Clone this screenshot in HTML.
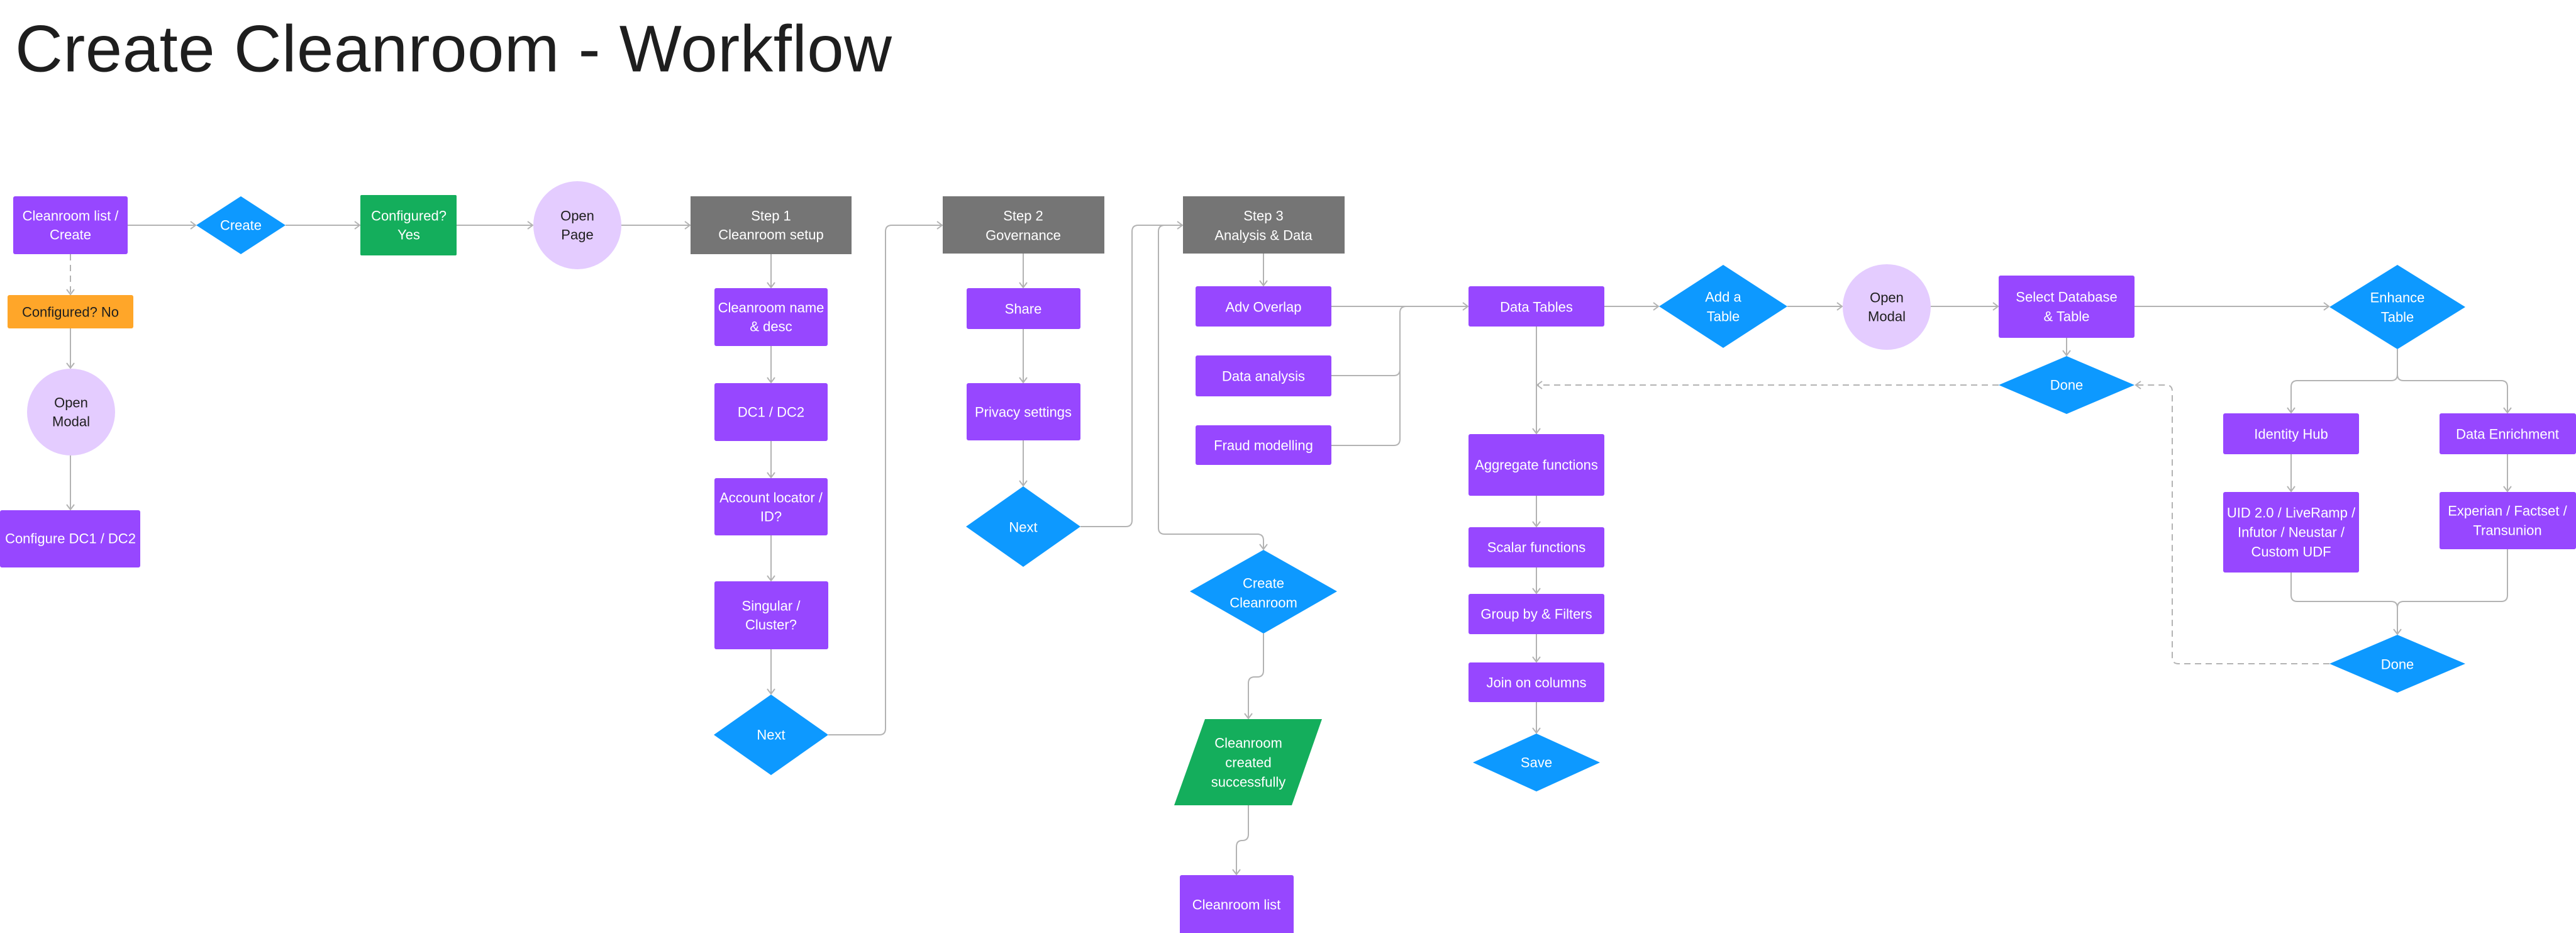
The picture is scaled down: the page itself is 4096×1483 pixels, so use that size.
<!DOCTYPE html>
<html><head><meta charset="utf-8"><style>
html,body{margin:0;padding:0;background:#fff;}
body{width:4096px;height:1483px;overflow:hidden;position:relative;}
svg{position:absolute;left:0;top:0;}
text{font-family:"Liberation Sans",sans-serif;font-size:22px;text-anchor:middle;dominant-baseline:central;fill:#fff;}
.d{fill:#1e1e1e;}
.c{fill:none;stroke:#b3b3b3;stroke-width:2;}
.dash{stroke-dasharray:10 7;}
</style></head><body>
<svg width="4096" height="1483" viewBox="0 0 4096 1483">
<defs>
<marker id="a" markerWidth="12" markerHeight="14" refX="10" refY="7" orient="auto" markerUnits="userSpaceOnUse">
<path d="M2,1 L10,7 L2,13" fill="none" stroke="#b3b3b3" stroke-width="2"/>
</marker>
</defs>
<text x="24" y="78" style="font-size:105px;text-anchor:start;fill:#1e1e1e;letter-spacing:0.5px">Create Cleanroom - Workflow</text>

<g class="c" marker-end="url(#a)">
<path d="M203,358 H311"/>
<path d="M454,358 H572"/>
<path d="M726,358 H847"/>
<path d="M988,358 H1097"/>
<path class="dash" d="M112,404 V468"/>
<path d="M112,522 V585"/>
<path d="M112,724 V810"/>
<path d="M1226,404 V457"/>
<path d="M1226,550 V608"/>
<path d="M1226,701 V759"/>
<path d="M1226,851 V923"/>
<path d="M1226,1032 V1103"/>
<path d="M1317,1168 H1398 Q1408,1168 1408,1158 V368 Q1408,358 1418,358 H1498"/>
<path d="M1627,403 V457"/>
<path d="M1627,523 V608"/>
<path d="M1627,700 V772"/>
<path d="M1718,837 H1790 Q1800,837 1800,827 V368 Q1800,358 1810,358 H1880"/>
<path d="M1852,358 Q1842,358 1842,368 V839 Q1842,849 1852,849 H1999 Q2009,849 2009,859 V873"/>
<path d="M2009,403 V454"/>
<path d="M2117,487 H2334"/>
<path d="M2009,1007 V1066 Q2009,1076 1999,1076 H1995 Q1985,1076 1985,1086 V1142"/>
<path d="M1985,1280 V1326 Q1985,1336 1975,1336 Q1966,1336 1966,1346 V1390"/>
<path d="M2551,487 H2637"/>
<path d="M2842,487 H2929"/>
<path d="M3070,487 H3177"/>
<path d="M3394,487 H3703"/>
<path d="M3286,537 V565"/>
<path class="dash" d="M3178,612 H2444"/>
<path d="M2443,519 V689"/>
<path d="M2443,788 V837"/>
<path d="M2443,902 V943"/>
<path d="M2443,1008 V1052"/>
<path d="M2443,1116 V1165"/>
<path d="M3812,555 V595 Q3812,605 3802,605 H3653 Q3643,605 3643,615 V656"/>
<path d="M3812,595 Q3812,605 3822,605 H3977 Q3987,605 3987,615 V656"/>
<path d="M3643,722 V781"/>
<path d="M3987,722 V781"/>
<path d="M3643,910 V946 Q3643,956 3653,956 H3802 Q3812,956 3812,966 V1008"/>
<path class="dash" d="M3704,1055 H3464 Q3454,1055 3454,1045 V622 Q3454,612 3444,612 H3396"/>
</g>
<g class="c">
<path d="M2117,597 H2216 Q2226,597 2226,587 V497 Q2226,487 2236,487"/>
<path d="M2117,708 H2216 Q2226,708 2226,698 V497"/>
<path d="M3987,873 V946 Q3987,956 3977,956 H3822 Q3812,956 3812,966"/>
</g>

<g fill="#9747FF">
<rect x="21" y="312" width="182" height="92" rx="3"/>
<rect x="0" y="811" width="223" height="91" rx="3"/>
<rect x="1136" y="458" width="180" height="92" rx="3"/>
<rect x="1136" y="609" width="180" height="92" rx="3"/>
<rect x="1136" y="760" width="180" height="91" rx="3"/>
<rect x="1136" y="924" width="181" height="108" rx="3"/>
<rect x="1537" y="458" width="181" height="65" rx="3"/>
<rect x="1537" y="609" width="181" height="91" rx="3"/>
<rect x="1901" y="455" width="216" height="64" rx="3"/>
<rect x="1901" y="565" width="216" height="65" rx="3"/>
<rect x="1901" y="676" width="216" height="63" rx="3"/>
<rect x="1876" y="1391" width="181" height="100" rx="3"/>
<rect x="2335" y="455" width="216" height="64" rx="3"/>
<rect x="2335" y="690" width="216" height="98" rx="3"/>
<rect x="2335" y="838" width="216" height="64" rx="3"/>
<rect x="2335" y="944" width="216" height="64" rx="3"/>
<rect x="2335" y="1053" width="216" height="63" rx="3"/>
<rect x="3178" y="438" width="216" height="99" rx="3"/>
<rect x="3535" y="657" width="216" height="65" rx="3"/>
<rect x="3879" y="657" width="217" height="65" rx="3"/>
<rect x="3535" y="782" width="216" height="128" rx="3"/>
<rect x="3879" y="782" width="217" height="91" rx="3"/>
</g>
<g fill="#757575">
<rect x="1098" y="312" width="256" height="92"/>
<rect x="1499" y="312" width="257" height="91"/>
<rect x="1881" y="312" width="257" height="91"/>
</g>
<rect x="573" y="310" width="153" height="96" fill="#14AE5C" rx="2"/>
<rect x="12" y="469" width="200" height="53" fill="#FFA629" rx="3"/>
<polygon points="1916,1143 2102,1143 2054,1280 1867,1280" fill="#14AE5C"/>
<g fill="#E4CCFF">
<ellipse cx="918" cy="358" rx="70" ry="70"/>
<ellipse cx="113" cy="655" rx="70" ry="69"/>
<ellipse cx="3000" cy="488" rx="70" ry="68"/>
</g>
<g fill="#0D99FF">
<polygon points="312,358 383,312 454,358 383,404"/>
<polygon points="1135,1168 1226,1104 1317,1168 1226,1232"/>
<polygon points="1536,837 1627,773 1718,837 1627,901"/>
<polygon points="1892,940 2009,874 2126,940 2009,1007"/>
<polygon points="2638,487 2740,421 2842,487 2740,553"/>
<polygon points="3704,488 3812,421 3920,488 3812,555"/>
<polygon points="3178,612 3286,566 3394,612 3286,658"/>
<polygon points="2342,1212 2443,1166 2544,1212 2443,1258"/>
<polygon points="3704,1055 3812,1009 3920,1055 3812,1101"/>
</g>

<text x="112" y="343">Cleanroom list /</text><text x="112" y="373">Create</text>
<text x="383" y="358">Create</text>
<text x="650" y="343">Configured?</text><text x="650" y="373">Yes</text>
<text class="d" x="918" y="343">Open</text><text class="d" x="918" y="373">Page</text>
<text x="1226" y="343">Step 1</text><text x="1226" y="373">Cleanroom setup</text>
<text class="d" x="112" y="496">Configured? No</text>
<text class="d" x="113" y="640">Open</text><text class="d" x="113" y="670">Modal</text>
<text x="112" y="856">Configure DC1 / DC2</text>
<text x="1226" y="489">Cleanroom name</text><text x="1226" y="519">&amp; desc</text>
<text x="1226" y="655">DC1 / DC2</text>
<text x="1226" y="791">Account locator /</text><text x="1226" y="821">ID?</text>
<text x="1226" y="963">Singular /</text><text x="1226" y="993">Cluster?</text>
<text x="1226" y="1168">Next</text>
<text x="1627" y="343">Step 2</text><text x="1627" y="374">Governance</text>
<text x="1627" y="491">Share</text>
<text x="1627" y="655">Privacy settings</text>
<text x="1627" y="838">Next</text>
<text x="2009" y="343">Step 3</text><text x="2009" y="374">Analysis &amp; Data</text>
<text x="2009" y="488">Adv Overlap</text>
<text x="2009" y="598">Data analysis</text>
<text x="2009" y="708">Fraud modelling</text>
<text x="2009" y="927">Create</text><text x="2009" y="958">Cleanroom</text>
<text x="1985" y="1181">Cleanroom</text><text x="1985" y="1212">created</text><text x="1985" y="1243">successfully</text>
<text x="1966" y="1438">Cleanroom list</text>
<text x="2443" y="488">Data Tables</text>
<text x="2740" y="472">Add a</text><text x="2740" y="503">Table</text>
<text class="d" x="3000" y="473">Open</text><text class="d" x="3000" y="503">Modal</text>
<text x="3286" y="472">Select Database</text><text x="3286" y="503">&amp; Table</text>
<text x="3812" y="473">Enhance</text><text x="3812" y="504">Table</text>
<text x="3286" y="612">Done</text>
<text x="2443" y="739">Aggregate functions</text>
<text x="2443" y="870">Scalar functions</text>
<text x="2443" y="976">Group by &amp; Filters</text>
<text x="2443" y="1085">Join on columns</text>
<text x="2443" y="1212">Save</text>
<text x="3643" y="690">Identity Hub</text>
<text x="3987" y="690">Data Enrichment</text>
<text x="3643" y="815">UID 2.0 / LiveRamp /</text><text x="3643" y="846">Infutor / Neustar /</text><text x="3643" y="877">Custom UDF</text>
<text x="3987" y="812">Experian / Factset /</text><text x="3987" y="843">Transunion</text>
<text x="3812" y="1056">Done</text>
</svg>
</body></html>
